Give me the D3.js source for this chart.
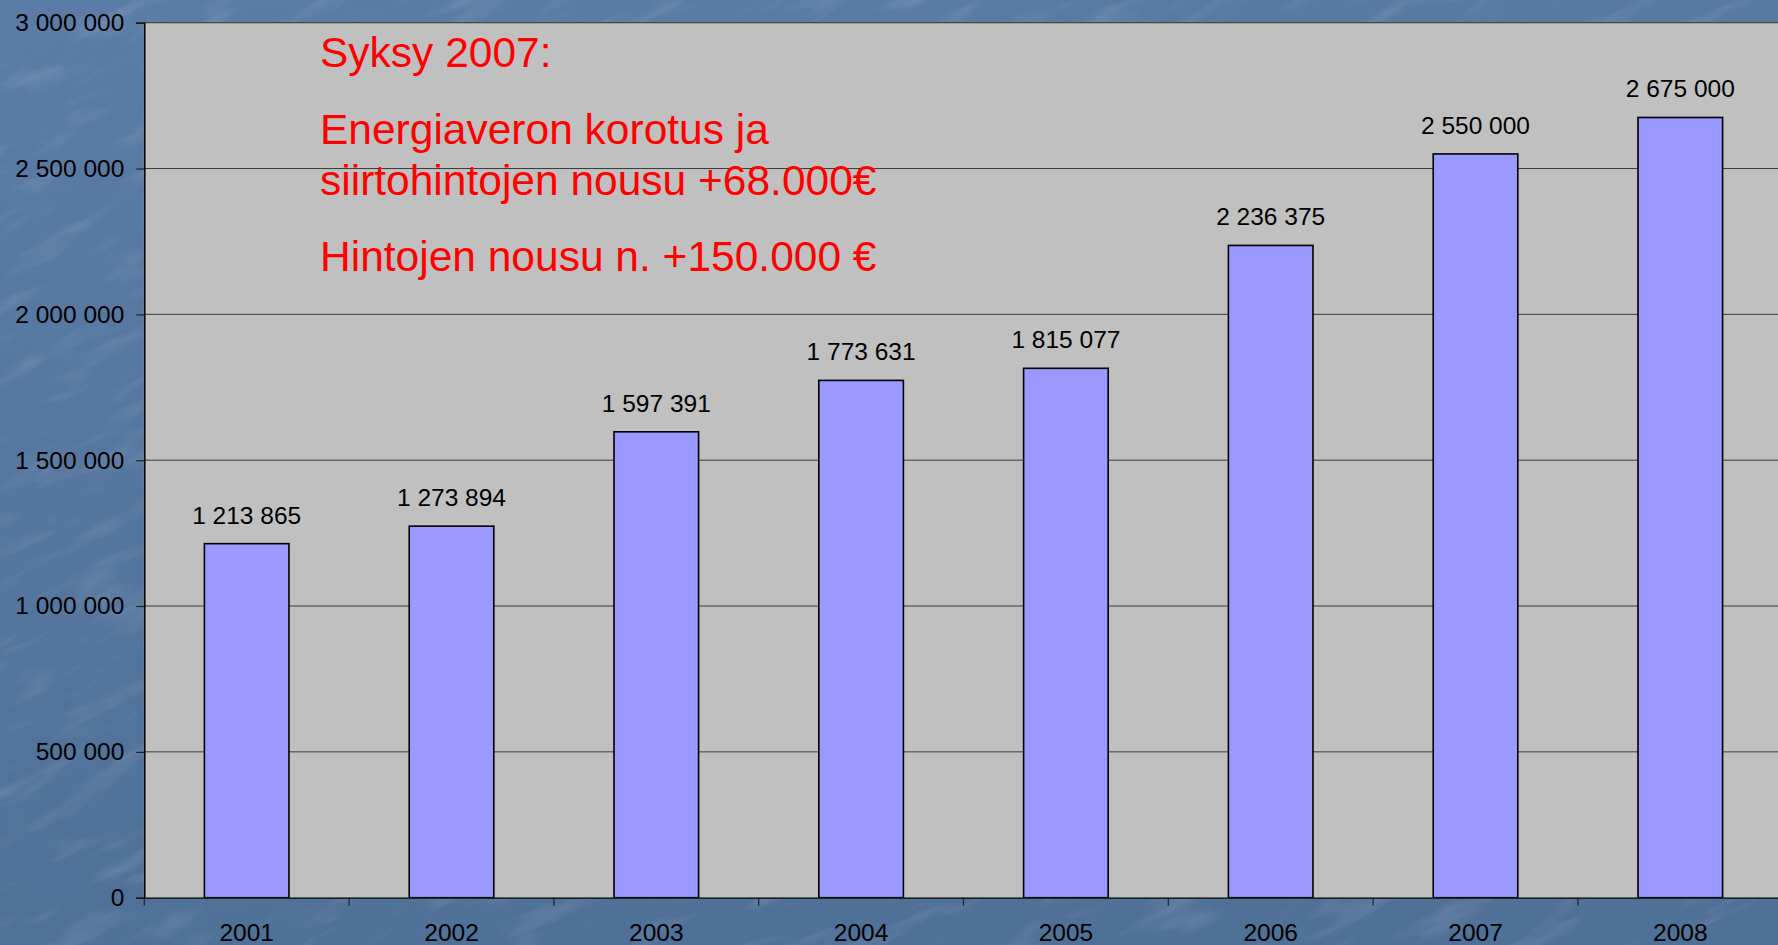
<!DOCTYPE html>
<html>
<head>
<meta charset="utf-8">
<script src="https://cdn.jsdelivr.net/npm/d3@7"></script>
<style>
html,body{margin:0;padding:0;background:#56779f;overflow:hidden;}
svg{display:block;font-family:"Liberation Sans",Arial,sans-serif;}
</style>
</head>
<body>
<svg id="chart" width="1778" height="945"></svg>
<script>
const years = ["2001","2002","2003","2004","2005","2006","2007","2008"];
const values = [1213865, 1273894, 1597391, 1773631, 1815077, 2236375, 2550000, 2675000];
const yTicks = [0, 500000, 1000000, 1500000, 2000000, 2500000, 3000000];
const noteLines = ["Syksy 2007:", "Energiaveron korotus ja", "siirtohintojen nousu +68.000€", "Hintojen nousu n. +150.000 €"];

(function(){
const W = 1778, H = 945;
const svg = d3.select("#chart");

// background with texture
const defs = svg.append("defs");
const grad = defs.append("linearGradient").attr("id","bg").attr("x1",0).attr("y1",0).attr("x2",0.3).attr("y2",1);
grad.append("stop").attr("offset","0%").attr("stop-color","#5a7ca6");
grad.append("stop").attr("offset","100%").attr("stop-color","#4f7097");
const filt = defs.append("filter").attr("id","tex").attr("x",0).attr("y",0).attr("width","100%").attr("height","100%");
filt.append("feTurbulence").attr("type","fractalNoise").attr("baseFrequency","0.012 0.05").attr("numOctaves",3).attr("seed",4).attr("result","n");
filt.append("feColorMatrix").attr("in","n").attr("type","matrix")
  .attr("values","0 0 0 0 1  0 0 0 0 1  0 0 0 0 1  0 0 0 1.2 -0.62");
svg.append("rect").attr("width",W).attr("height",H).attr("fill","url(#bg)");
svg.append("rect").attr("width",W*1.6).attr("height",H*1.6).attr("x",-W*0.3).attr("y",-H*0.3)
  .attr("filter","url(#tex)").attr("opacity",0.25)
  .attr("transform","rotate(-25 889 472)");

const mLeft = 144.3, mTop = 22.7, mBottom = 897.7;
const step = 204.8;
const mRight = mLeft + step * years.length;
const fs = 24.5;

const x = d3.scaleBand().domain(years).range([mLeft, mRight]).paddingInner(0.587).paddingOuter(0.2935);
const y = d3.scaleLinear().domain([0, 3000000]).range([mBottom, mTop]);

const fmt = v => d3.format(",")(v).replace(/,/g, " ");

// plot area
svg.append("rect").attr("x",mLeft).attr("y",mTop).attr("width",mRight-mLeft).attr("height",mBottom-mTop)
  .attr("fill","#c0c0c0").attr("stroke","#8a8a8a").attr("stroke-width",1);

// gridlines
svg.append("g").selectAll("line").data(yTicks.filter(d=>d>0)).join("line")
  .attr("x1",mLeft).attr("x2",mRight).attr("y1",d=>y(d)).attr("y2",d=>y(d))
  .attr("stroke","#3a3a3a").attr("stroke-width",1);

// annotation
const note = svg.append("g").attr("fill","#ff0000").attr("font-size",42.5);
const noteY = [67.3, 144, 195, 271];
noteLines.forEach((t,i)=>{
  note.append("text").attr("x",320).attr("y",noteY[i]).text(t);
});

// bars
svg.append("g").selectAll("rect").data(values).join("rect")
  .attr("x",(d,i)=>x(years[i])).attr("width",x.bandwidth())
  .attr("y",d=>y(d)).attr("height",d=>mBottom-y(d))
  .attr("fill","#9999ff").attr("stroke","#000").attr("stroke-width",1.6);

// value labels
svg.append("g").selectAll("text").data(values).join("text")
  .attr("x",(d,i)=>x(years[i])+x.bandwidth()/2).attr("y",d=>y(d)-20)
  .attr("text-anchor","middle").attr("font-size",fs).attr("fill","#000")
  .text(d=>fmt(d));

// y axis
const yAxis = d3.axisLeft(y).tickValues(yTicks).tickSize(8).tickPadding(12).tickFormat(fmt);
const gy = svg.append("g").attr("transform",`translate(${mLeft},0)`).call(yAxis);
gy.select(".domain").attr("stroke","#000").attr("stroke-width",1.5);
gy.selectAll(".tick line").attr("stroke","#222").attr("stroke-width",1.2);
gy.selectAll("text").attr("font-size",fs).attr("fill","#000").attr("font-family","Liberation Sans, Arial, sans-serif");

// x axis
const xAxis = d3.axisBottom(x).tickSize(0).tickPadding(26);
const gx = svg.append("g").attr("transform",`translate(0,${mBottom})`).call(xAxis);
gx.select(".domain").attr("stroke","#222").attr("stroke-width",1.5);
gx.selectAll("text").attr("font-size",fs).attr("fill","#000").attr("font-family","Liberation Sans, Arial, sans-serif");
// category separator ticks
const sepX = d3.range(years.length + 1).map(i => mLeft + i * step);
svg.append("g").selectAll("line").data(sepX).join("line")
  .attr("x1",d=>d).attr("x2",d=>d).attr("y1",mBottom).attr("y2",mBottom+8)
  .attr("stroke","#222").attr("stroke-width",1.2);
})();
</script>
</body>
</html>
